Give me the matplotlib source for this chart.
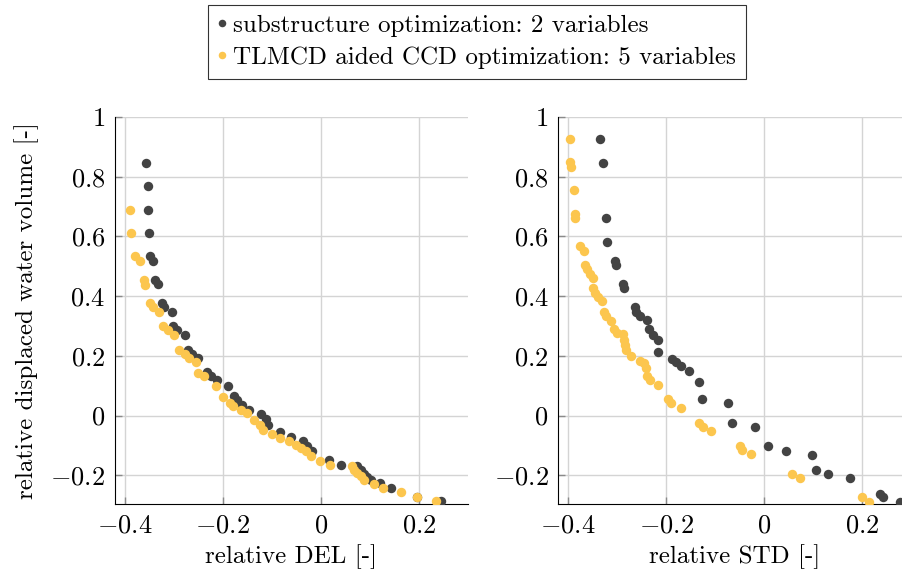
import matplotlib
matplotlib.use("Agg")
import matplotlib.pyplot as plt

# relative DEL vs displaced water volume (left panel)
del_sub = [-0.356, -0.352, -0.352, -0.351, -0.348, -0.343, -0.338, -0.333, -0.325, -0.319,
           -0.303, -0.301, -0.293, -0.278, -0.271, -0.262, -0.250, -0.233, -0.224, -0.212,
           -0.190, -0.177, -0.170, -0.160, -0.146, -0.121, -0.112, -0.107, -0.084, -0.061,
           -0.037, -0.029, -0.017, 0.017, 0.041, 0.075, 0.082, 0.088, 0.095, 0.102,
           0.121, 0.143, 0.197, 0.246]
vol_del_sub = [0.847, 0.769, 0.690, 0.613, 0.533, 0.519, 0.455, 0.441, 0.377, 0.364,
               0.348, 0.299, 0.285, 0.270, 0.221, 0.207, 0.192, 0.145, 0.131, 0.120,
               0.098, 0.065, 0.051, 0.037, 0.020, 0.007, -0.013, -0.030, -0.056, -0.071,
               -0.086, -0.103, -0.119, -0.147, -0.164, -0.169, -0.183, -0.195, -0.206, -0.216,
               -0.227, -0.244, -0.272, -0.287]

del_tlmcd = [-0.390, -0.388, -0.380, -0.368, -0.361, -0.358, -0.348, -0.343, -0.331, -0.321,
             -0.311, -0.300, -0.290, -0.278, -0.269, -0.254, -0.251, -0.238, -0.213, -0.199,
             -0.185, -0.180, -0.163, -0.150, -0.136, -0.124, -0.117, -0.099, -0.084, -0.065,
             -0.051, -0.041, -0.031, -0.020, -0.001, 0.019, 0.063, 0.068, 0.075, 0.082,
             0.088, 0.109, 0.128, 0.163, 0.196, 0.235]
vol_del_tlmcd = [0.690, 0.613, 0.533, 0.519, 0.455, 0.439, 0.377, 0.364, 0.348, 0.299,
                 0.285, 0.270, 0.221, 0.207, 0.192, 0.178, 0.143, 0.131, 0.098, 0.063,
                 0.042, 0.031, 0.020, 0.009, -0.016, -0.033, -0.047, -0.060, -0.075, -0.086,
                 -0.097, -0.108, -0.120, -0.134, -0.151, -0.167, -0.169, -0.181, -0.192, -0.203,
                 -0.214, -0.228, -0.244, -0.256, -0.272, -0.287]

# relative STD vs displaced water volume (right panel)
std_sub = [-0.334, -0.328, -0.322, -0.320, -0.305, -0.302, -0.288, -0.286, -0.264, -0.262,
           -0.253, -0.240, -0.235, -0.227, -0.216, -0.216, -0.188, -0.179, -0.169, -0.154,
           -0.132, -0.127, -0.074, -0.065, -0.018, 0.009, 0.044, 0.098, 0.105, 0.130,
           0.175, 0.237, 0.243, 0.277]
vol_std_sub = [0.925, 0.847, 0.661, 0.582, 0.519, 0.504, 0.441, 0.426, 0.362, 0.348,
               0.333, 0.319, 0.291, 0.270, 0.254, 0.212, 0.191, 0.178, 0.165, 0.150,
               0.112, 0.055, 0.041, -0.024, -0.039, -0.102, -0.117, -0.131, -0.182, -0.196,
               -0.209, -0.261, -0.274, -0.289]

std_tlmcd = [-0.397, -0.397, -0.394, -0.388, -0.387, -0.385, -0.375, -0.368, -0.365, -0.361,
             -0.356, -0.349, -0.349, -0.346, -0.339, -0.330, -0.327, -0.322, -0.312, -0.307,
             -0.300, -0.287, -0.285, -0.284, -0.281, -0.272, -0.254, -0.245, -0.242, -0.240,
             -0.233, -0.216, -0.197, -0.189, -0.170, -0.132, -0.125, -0.108, -0.049, -0.046,
             -0.027, 0.058, 0.074, 0.200, 0.214]
vol_std_tlmcd = [0.925, 0.848, 0.834, 0.755, 0.675, 0.661, 0.568, 0.552, 0.504, 0.490,
                 0.474, 0.460, 0.426, 0.411, 0.398, 0.384, 0.348, 0.333, 0.318, 0.289,
                 0.275, 0.272, 0.253, 0.236, 0.219, 0.199, 0.183, 0.175, 0.161, 0.132,
                 0.119, 0.104, 0.055, 0.041, 0.027, -0.024, -0.039, -0.052, -0.101, -0.116,
                 -0.130, -0.196, -0.210, -0.274, -0.289]

xticks = [-0.4, -0.2, 0, 0.2]
xticklabels = ["$-0.4$", "$-0.2$", "$0$", "$0.2$"]
yticks = [-0.2, 0, 0.2, 0.4, 0.6, 0.8, 1]
yticklabels = ["$-0.2$", "$0$", "$0.2$", "$0.4$", "$0.6$", "$0.8$", "$1$"]

labels = ["substructure optimization: 2 variables",
          "TLMCD aided CCD optimization: 5 variables"]

dark = "#434343"
yellow = "#FCC64E"

plt.rcParams["font.family"] = "serif"
plt.rcParams["font.serif"] = ["cmr10"]
plt.rcParams["mathtext.fontset"] = "cm"
plt.rcParams["axes.formatter.use_mathtext"] = True

fig = plt.figure(figsize=(9.02, 5.79), dpi=100)
ax1 = fig.add_axes([0.1275, 0.129, 0.391, 0.669])
ax2 = fig.add_axes([0.619, 0.129, 0.391, 0.669])

panels = [
    (ax1, del_sub, vol_del_sub, del_tlmcd, vol_del_tlmcd, "relative DEL [-]"),
    (ax2, std_sub, vol_std_sub, std_tlmcd, vol_std_tlmcd, "relative STD [-]"),
]

for ax, xs, ys, xt, yt, xlabel in panels:
    ax.plot(xs, ys, "o", color=dark, ms=6.8, mec="none", label=labels[0], zorder=3)
    ax.plot(xt, yt, "o", color=yellow, ms=6.8, mec="none", label=labels[1], zorder=3)
    ax.set_xlim(-0.42, 0.30)
    ax.set_ylim(-0.297, 1)
    ax.set_xticks(xticks)
    ax.set_xticklabels(xticklabels)
    ax.set_yticks(yticks)
    ax.set_yticklabels(yticklabels)
    ax.grid(True, color="#d4d4d4", lw=1)
    ax.set_axisbelow(True)
    ax.spines["top"].set_visible(False)
    ax.spines["right"].set_visible(False)
    ax.tick_params(direction="in", length=5, width=1, color="#8a8a8a",
                   labelsize=19, pad=7)
    ax.set_xlabel(xlabel, fontsize=18, labelpad=5)

ax1.set_ylabel("relative displaced water volume [-]", fontsize=18, labelpad=8)

handles, _ = ax1.get_legend_handles_labels()
leg = fig.legend(handles, labels, loc="upper center", bbox_to_anchor=(0.529, 0.992),
                 fontsize=18, frameon=True, fancybox=False, edgecolor="black",
                 handlelength=0.3, handletextpad=0.3, markerscale=0.8,
                 borderpad=0.4, labelspacing=0.38, borderaxespad=0)
leg.get_frame().set_linewidth(0.8)

fig.savefig("out.png", dpi=100)
